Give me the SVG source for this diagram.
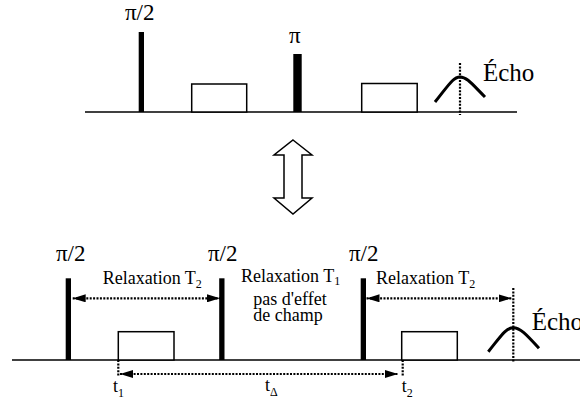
<svg xmlns="http://www.w3.org/2000/svg" width="580" height="401" viewBox="0 0 580 401">
<style>
.t{font-family:"Liberation Serif",serif;fill:#000}
.big{font-size:23px}
.med{font-size:18px}
.sub{font-size:12px}
.echo{font-size:25px}
.base{stroke:#000;stroke-width:1.5;fill:none}
.box{stroke:#000;stroke-width:1.5;fill:#fff}
.pulse{fill:#000}
.dot{stroke:#000;stroke-width:2.2;stroke-dasharray:2 1.4;fill:none}
.curve{stroke:#000;stroke-width:3;fill:none;stroke-linecap:butt}
</style>
<defs>
<marker id="ah" viewBox="0 0 13 8" refX="13" refY="4" markerWidth="13" markerHeight="8" markerUnits="userSpaceOnUse" orient="auto-start-reverse">
<path d="M0,0 L13,4 L0,8 Z" fill="#000"/>
</marker>
</defs>
<rect width="580" height="401" fill="#fff"/>

<g id="top-sequence">
<line class="base" x1="85" y1="112" x2="517" y2="112"/>
<rect class="pulse" x="138.7" y="32" width="5.3" height="80"/>
<text class="t big" x="125" y="20">π/2</text>
<rect class="box" x="191.7" y="84" width="55" height="28"/>
<rect class="pulse" x="293.3" y="54" width="8.4" height="58"/>
<text class="t big" x="289" y="43">π</text>
<rect class="box" x="361.7" y="83.5" width="55.5" height="28.5"/>
</g>

<g id="top-echo">
<line class="dot" x1="460" y1="63" x2="460" y2="115"/>
<path class="curve" d="M435,102 C448,86 453,77 460,77 C467,77 472,84 485,97"/>
<text class="t echo" x="483" y="81">Écho</text>
</g>

<g id="double-arrow">
<polygon points="293,140 312,155 302,155 302,198 312,198 293,214 274,198 284,198 284,155 274,155" fill="#fff" stroke="#000" stroke-width="1.5" stroke-linejoin="miter"/>
</g>

<g id="bottom-sequence">
<line class="base" x1="12" y1="360" x2="580" y2="360"/>
<rect class="pulse" x="65.7" y="278.3" width="5.3" height="81.7"/>
<text class="t big" x="56" y="261">π/2</text>
<rect class="box" x="118.3" y="331.7" width="55.7" height="28.3"/>
<rect class="pulse" x="219.2" y="278.3" width="5.3" height="81.7"/>
<text class="t big" x="208" y="261">π/2</text>
<rect class="pulse" x="360.7" y="278.3" width="5.3" height="81.7"/>
<text class="t big" x="349" y="261">π/2</text>
<rect class="box" x="401.7" y="331.7" width="55.6" height="28.3"/>
</g>

<g id="bottom-echo">
<path class="curve" d="M488.3,351.7 C501,336 506,327.7 513.3,327.7 C520,327.7 526,334 539,348.3"/>
<text class="t echo" x="531.7" y="330">Écho</text>
</g>

<g id="labels">
<text class="t med" x="102.7" y="284">Relaxation T<tspan class="sub" dy="4">2</tspan></text>
<text class="t med" x="241" y="282">Relaxation T<tspan class="sub" dy="3">1</tspan></text>
<text class="t med" x="253.3" y="305">pas d'effet</text>
<text class="t med" x="253.3" y="321">de champ</text>
<text class="t med" x="376" y="284">Relaxation T<tspan class="sub" dy="4">2</tspan></text>
<text class="t med" x="113" y="392">t<tspan class="sub" dy="5">1</tspan></text>
<text class="t med" x="265" y="391">t<tspan class="sub" dy="5">Δ</tspan></text>
<text class="t med" x="401.7" y="392">t<tspan class="sub" dy="5">2</tspan></text>
</g>

<g id="connectors">
<line class="dot" x1="72.7" y1="298.3" x2="220" y2="298.3" marker-start="url(#ah)" marker-end="url(#ah)"/>
<line class="dot" x1="366.5" y1="298.3" x2="511.7" y2="298.3" marker-start="url(#ah)" marker-end="url(#ah)"/>
<line class="dot" x1="513.3" y1="288" x2="513.3" y2="362"/>
<line class="dot" x1="120" y1="374" x2="398" y2="374" marker-start="url(#ah)" marker-end="url(#ah)"/>
<line class="dot" x1="118.3" y1="360" x2="118.3" y2="376"/>
<line class="dot" x1="402.7" y1="360" x2="402.7" y2="376"/>
</g>
</svg>
